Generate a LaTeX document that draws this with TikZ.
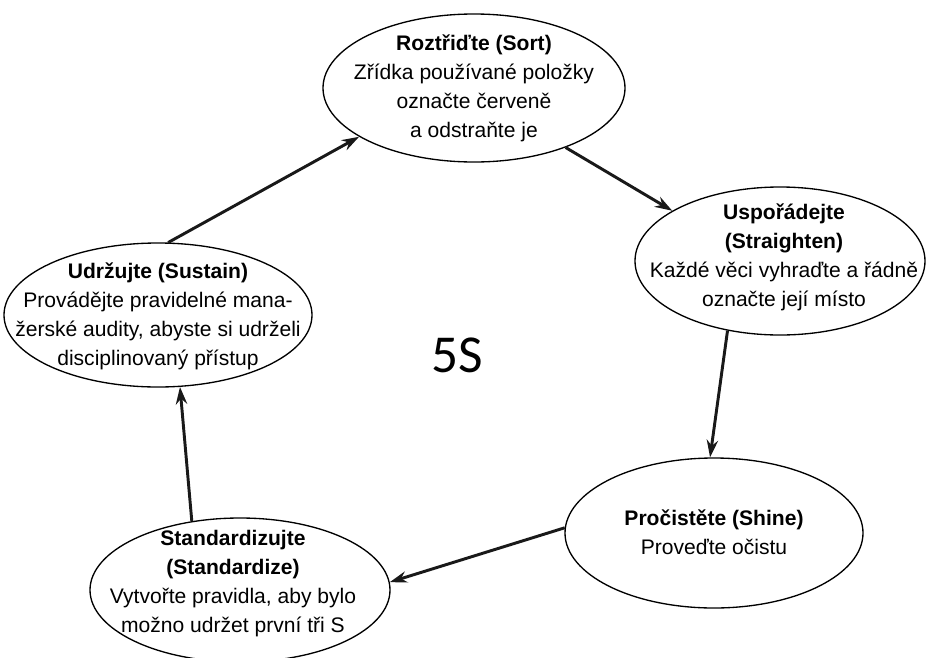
\documentclass[tikz,border=0pt]{standalone}
\usepackage{fontspec}
\setmainfont{Liberation Sans}
\newfontfamily\calibri{Carlito}
\usetikzlibrary{shapes.geometric, arrows.meta}

\begin{document}
\begin{tikzpicture}[x=0.75pt, y=-0.75pt,
    phase/.style={draw, ellipse, line width=1pt, inner sep=0pt},
    phasetext/.style={align=center, font=\fontsize{15.8}{21.75}\selectfont, inner sep=0pt},
    flow/.style={-{Stealth[length=13pt, width=8.5pt]}, line width=2.2pt, black!90}]
    \clip (0,0) rectangle (928,657);
    % the five ellipses
    \node[phase, minimum width=226.5pt, minimum height=111pt] (sort) at (474,88) {};
    \node[phase, minimum width=217.5pt, minimum height=111pt] (straighten) at (780,261) {};
    \node[phase, minimum width=223.5pt, minimum height=112.5pt] (shine) at (714,533) {};
    \node[phase, minimum width=225pt, minimum height=108pt] (standardize) at (240,590) {};
    \node[phase, minimum width=231pt, minimum height=108pt] (sustain) at (158,315) {};
    % their texts
    \node[phasetext] (sort-t) at (474,88)
        {\textbf{Roztřiďte (Sort)}\\Zřídka používané položky\\označte červeně\\a odstraňte je};
    \node[phasetext] (straighten-t) at (784,257)
        {\textbf{Uspořádejte}\\\textbf{(Straighten)}\\Každé věci vyhraďte a řádně\\označte její místo};
    \node[phasetext] (shine-t) at (714,532)
        {\textbf{Pročistěte (Shine)}\\Proveďte očistu};
    \node[phasetext] (standardize-t) at (233,584)
        {\textbf{Standardizujte}\\\textbf{(Standardize)}\\Vytvořte pravidla, aby bylo\\možno udržet první tři S};
    \node[phasetext] (sustain-t) at (158,316)
        {\textbf{Udržujte (Sustain)}\\Provádějte pravidelné mana-\\žerské audity, abyste si udrželi\\disciplinovaný přístup};
    \node[font=\calibri\fontsize{40}{48}\selectfont] (five) at (457,355) {5S};
    % the cycle
    \draw[flow] (sustain.82) -- (sort.203);
    \draw[flow] (sort.327) -- (straighten.155);
    \draw[flow] (straighten.233) -- (shine.93);
    \draw[flow] (shine.178) -- (standardize.3);
    \draw[flow] (standardize.125) -- (sustain.287);
\end{tikzpicture}
\end{document}
